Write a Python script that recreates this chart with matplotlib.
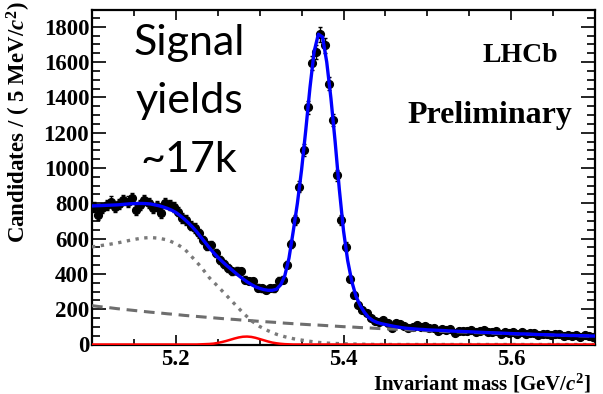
import numpy as numpy
import matplotlib
import matplotlib.pyplot as plt
from matplotlib.ticker import MultipleLocator

# histogram: 5 MeV bins from 5.10 to 5.70 GeV
nbins = 120
binlo = 5.10
binwidth = 0.005

counts = [ 781, 734, 772, 790, 810, 781, 795, 819, 810, 829,
           763, 790, 819, 800, 772, 785, 744, 800, 790, 781,
           753, 716, 705, 672, 660, 631, 593, 560, 562, 520,
           480, 455, 433, 414, 418, 414, 367, 360, 358, 322,
           318, 311, 320, 318, 362, 367, 452, 570, 706, 894,
           1102, 1343, 1595, 1657, 1757, 1695, 1478, 1271, 960, 706,
           555, 371, 278, 226, 198, 179, 151, 132, 125, 141,
           122, 94, 122, 118, 104, 94, 100, 113, 98, 104,
           94, 94, 75, 88, 80, 85, 66, 78, 75, 75,
           82, 70, 76, 80, 72, 68, 74, 62, 70, 66,
           72, 60, 68, 58, 64, 66, 55, 62, 60, 52,
           58, 62, 50, 56, 48, 54, 45, 52, 50, 44 ]

# total fit, sampled every 5 MeV from 5.100 to 5.700
fit_total = [ 785, 786, 787, 788, 789, 790, 791, 793, 795, 797,
              798, 799, 799, 798, 796, 791, 786, 779, 771, 761,
              748, 731, 711, 689, 665, 638, 608, 578, 548, 520,
              495, 472, 450, 430, 410, 390, 372, 355, 340, 327,
              318, 311, 307, 307, 313, 338, 390, 490, 640, 800,
              990, 1215, 1455, 1660, 1758, 1742, 1600, 1395, 1150, 880,
              645, 475, 355, 272, 220, 182, 153, 136, 125, 118,
              113, 108, 103, 99, 95, 92, 90, 88, 86, 85,
              83, 82, 81, 80, 79, 77, 76, 75, 74, 73,
              72, 71, 70, 69, 68, 67, 66, 65, 64, 63,
              62, 61, 60, 60, 59, 58, 57, 56, 56, 55,
              54, 53, 53, 52, 51, 51, 50, 50, 49, 48, 48 ]

# small B0 peak, same 5 MeV sampling
fit_b0 = ( [0] * 26 +
           [ 1, 2, 3, 5, 9, 14, 20, 27, 34, 40, 44, 45, 43, 38, 31, 24,
             17, 11, 7, 4, 2, 1 ] +
           [0] * 73 )

# backgrounds, sampled every 10 MeV from 5.10 to 5.70
fit_partreco = [ 553, 560, 567, 575, 585, 595, 603, 606, 602, 592,
                 572, 543, 492, 440, 378, 330, 280, 230, 180, 135,
                 102, 78, 58, 44, 33, 25, 18, 12, 8, 6,
                 4, 3, 2, 1 ] + [0] * 27
fit_comb = [ 220, 214, 209, 203, 198, 193, 188, 183, 179, 174,
             170, 165, 161, 157, 153, 149, 145, 142, 138, 135,
             131, 128, 125, 121, 118, 115, 112, 110, 107, 104,
             101, 99, 96, 94, 91, 89, 87, 85, 82, 80,
             78, 76, 74, 72, 71, 69, 67, 65, 64, 62,
             61, 59, 58, 56, 55, 53, 52, 51, 49, 48, 47 ]

xfine = numpy.linspace( 5.10, 5.70, len( fit_total ) )
xcoarse = numpy.linspace( 5.10, 5.70, len( fit_comb ) )
centres = binlo + binwidth * ( numpy.arange( nbins ) + 0.5 )
counts = numpy.asarray( counts, dtype=float )
errors = numpy.sqrt( counts )

plt.rcParams['mathtext.fontset'] = 'custom'
plt.rcParams['mathtext.rm'] = 'Liberation Serif:bold'
plt.rcParams['mathtext.it'] = 'Liberation Serif:bold:italic'

serif = dict( family='Liberation Serif', weight='bold' )

fig = plt.figure( figsize=( 6.03, 3.94 ), dpi=100 )
ax = fig.add_axes( [ 92 / 603, 1 - 344.5 / 394, 503 / 603, 334.5 / 394 ] )

ax.plot( xcoarse, fit_comb, '--', color='#6e6e6e', lw=2.2, dashes=( 3.5, 2.2 ), zorder=3 )
ax.plot( xcoarse, fit_partreco, ':', color='#7a7a7a', lw=2.4, zorder=3 )
ax.plot( xfine, fit_b0, '-', color='red', lw=1.8, zorder=4 )
ax.errorbar( centres, counts, yerr=errors, fmt='o', color='black', ms=5.6,
             elinewidth=1.0, capsize=1.5, capthick=1.0, zorder=2 )
ax.plot( xfine, fit_total, '-', color='blue', lw=2.4, zorder=5 )

ax.set_xlim( 5.10, 5.70 )
ax.set_ylim( 0, 1895 )

ax.xaxis.set_major_locator( MultipleLocator( 0.2 ) )
ax.xaxis.set_minor_locator( MultipleLocator( 0.05 ) )
ax.yaxis.set_major_locator( MultipleLocator( 200 ) )
ax.yaxis.set_minor_locator( MultipleLocator( 50 ) )
ax.tick_params( which='both', direction='in', top=True, right=True, width=1.2 )
ax.tick_params( axis='x', which='major', length=7, pad=3 )
ax.tick_params( axis='x', which='minor', length=4 )
ax.tick_params( axis='y', which='major', length=10, pad=2 )
ax.tick_params( axis='y', which='minor', length=5.5 )
for lab in ax.get_xticklabels() + ax.get_yticklabels() :
    lab.set_fontfamily( 'Liberation Serif' )
    lab.set_fontweight( 'bold' )
    lab.set_fontsize( 16.5 )
for sp in ax.spines.values() :
    sp.set_linewidth( 1.6 )

ax.set_xlabel( r"Invariant mass [GeV/$c^{2}$]", fontsize=15, loc='right', **serif )
ax.xaxis.set_label_coords( 0.992, -0.082 )
ax.set_ylabel( r"Candidates / ( 5 MeV/$c^{2}$)", fontsize=16.5, loc='top', **serif )
ax.yaxis.set_label_coords( -0.118, 1.025 )

ax.text( 520 / 603, 1 - 56 / 394, "LHCb", transform=fig.transFigure,
         ha='center', va='center', fontsize=20, **serif )
ax.text( 490 / 603, 1 - 116 / 394, "Preliminary", transform=fig.transFigure,
         ha='center', va='center', fontsize=23, **serif )

for line, ybase in zip( [ "Signal", "yields", "~17k" ], [ 55, 113, 172 ] ) :
    fig.text( 189 / 603, 1 - ybase / 394, line, ha='center', va='baseline',
              fontsize=31, family='Lato' )

fig.savefig( "out.png", dpi=100 )
